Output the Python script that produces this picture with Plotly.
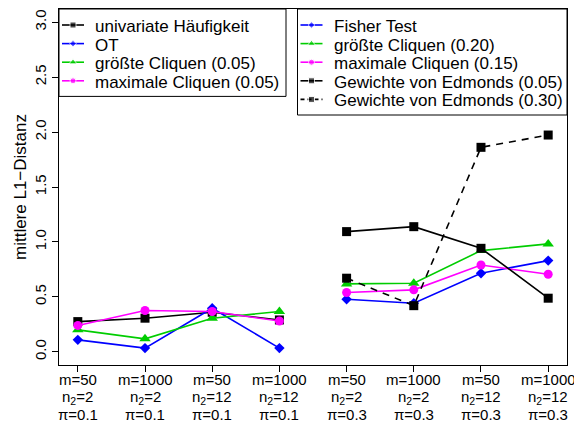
import plotly.graph_objects as go

# x positions: two blocks of four settings (pi = 0.1 and pi = 0.3)
x_low = [1, 2, 3, 4]
x_high = [5, 6, 7, 8]
x_ticks = x_low + x_high
tick_m = ["50", "1000", "50", "1000", "50", "1000", "50", "1000"]
tick_n2 = ["2", "2", "12", "12", "2", "2", "12", "12"]
tick_pi = ["0.1", "0.1", "0.1", "0.1", "0.3", "0.3", "0.3", "0.3"]
y_ticks = [0, 0.5, 1, 1.5, 2, 2.5, 3]

# pi = 0.1
univariate = [0.275, 0.306, 0.36, 0.29]
ot = [0.109, 0.034, 0.397, 0.034]
groesste_005 = [0.20, 0.118, 0.306, 0.367]
maximale_005 = [0.24, 0.376, 0.367, 0.28]

# pi = 0.3
fisher = [0.479, 0.442, 0.715, 0.83]
groesste_020 = [0.618, 0.624, 0.921, 0.982]
maximale_015 = [0.54, 0.564, 0.79, 0.706]
edmonds_005 = [1.094, 1.139, 0.942, 0.488]
edmonds_030 = [0.67, 0.42, 1.861, 1.973]

BLACK, BLUE, GREEN, MAGENTA = "#000000", "#0000FF", "#00CD00", "#FF00FF"
FONT = "Liberation Sans, Arial, Helvetica, DejaVu Sans, sans-serif"
DASHED = "7px,6px"
LINE_W = 1.6

# symbol name -> (plot size, key size)
SYMBOLS = {
    "square": (9, 6),
    "diamond": (8, 5),
    "triangle-up": (10, 7),
    "circle": (9, 6),
}

# figure / plot-area geometry in pixels
W, H = 574, 421
M_L, M_R, M_T, M_B = 59, 7, 9, 56
P_LEFT, P_RIGHT, P_TOP, P_BOTTOM = M_L, W - M_R, M_T, H - M_B


def paper_y(px):
    """Pixel row (from the top of the figure) -> paper y fraction."""
    return (P_BOTTOM - px) / (P_BOTTOM - P_TOP)


series_low = [
    ("univariate Häufigkeit", univariate, BLACK, "square", "solid"),
    ("OT", ot, BLUE, "diamond", "solid"),
    ("größte Cliquen (0.05)", groesste_005, GREEN, "triangle-up", "solid"),
    ("maximale Cliquen (0.05)", maximale_005, MAGENTA, "circle", "solid"),
]
series_high = [
    ("Fisher Test", fisher, BLUE, "diamond", "solid"),
    ("größte Cliquen (0.20)", groesste_020, GREEN, "triangle-up", "solid"),
    ("maximale Cliquen (0.15)", maximale_015, MAGENTA, "circle", "solid"),
    ("Gewichte von Edmonds (0.05)", edmonds_005, BLACK, "square", "solid"),
    ("Gewichte von Edmonds (0.30)", edmonds_030, BLACK, "square", DASHED),
]

fig = go.Figure()

for xs, group in ((x_low, series_low), (x_high, series_high)):
    for name, ys, color, symbol, dash in group:
        fig.add_trace(go.Scatter(
            x=xs, y=ys, name=name, mode="lines+markers", showlegend=False,
            line=dict(color=color, width=LINE_W, dash=dash),
            marker=dict(color=color, symbol=symbol, size=SYMBOLS[symbol][0]),
        ))

# Two boxed legends drawn on a pixel-space overlay of the plot area
ROW_H = 18.6
FIRST_ROW = 25
shapes = []
annotations = []


def draw_legend(group, box_left, box_right, box_top):
    box_bottom = box_top + ROW_H * len(group) + 13
    shapes.append(dict(type="rect", xref="x2", yref="y2",
                       x0=box_left, x1=box_right, y0=box_top, y1=box_bottom,
                       line=dict(color="black", width=1), layer="below"))
    for i, (name, _, color, symbol, dash) in enumerate(group):
        y = FIRST_ROW + i * ROW_H
        key_x = [box_left + 3, box_left + 14, box_left + 25]
        fig.add_trace(go.Scatter(
            x=key_x, y=[y, y, y], xaxis="x2", yaxis="y2", mode="lines+markers",
            showlegend=False, hoverinfo="skip", cliponaxis=False,
            line=dict(color=color, width=LINE_W,
                      dash="4px,3px" if dash != "solid" else "solid"),
            marker=dict(color=color, symbol=symbol,
                        size=[0, SYMBOLS[symbol][1], 0]),
        ))
        annotations.append(dict(
            xref="x2", yref="y2", x=box_left + 34, y=y + 1.5, text=name,
            showarrow=False, xanchor="left", yanchor="middle",
            font=dict(family=FONT, size=17, color="black"),
        ))


draw_legend(series_low, P_LEFT, 286, P_TOP)
draw_legend(series_high, 297.5, P_RIGHT, P_TOP)

# three-line category labels under each x tick
TICK_ROWS = [379, 397, 414.5]
for xv, m, n2, pi in zip(x_ticks, tick_m, tick_n2, tick_pi):
    lines = [f"m={m}", f"n<sub>2</sub>={n2}", f"π={pi}"]
    for row, txt in zip(TICK_ROWS, lines):
        annotations.append(dict(
            xref="x", yref="paper", x=xv, y=paper_y(row), text=txt,
            showarrow=False, xanchor="center", yanchor="middle",
            font=dict(family=FONT, size=15, color="black"),
        ))

# y-axis title
annotations.append(dict(
    xref="paper", yref="paper", x=(20 - P_LEFT) / (P_RIGHT - P_LEFT), y=0.5,
    text="mittlere L1−Distanz", textangle=-90, showarrow=False,
    xanchor="center", yanchor="middle",
    font=dict(family=FONT, size=17, color="black"),
))

axis_common = dict(
    showgrid=False, zeroline=False, showline=True, mirror=True,
    linecolor="black", linewidth=1, ticks="outside", ticklen=6,
    tickcolor="black", automargin=False,
)

fig.update_layout(
    width=W, height=H,
    margin=dict(l=M_L, r=M_R, t=M_T, b=M_B, autoexpand=False),
    paper_bgcolor="white", plot_bgcolor="white",
    font=dict(family=FONT, size=15, color="black"),
    xaxis=dict(range=[0.72, 8.28], tickvals=x_ticks, showticklabels=False,
               **axis_common),
    yaxis=dict(range=[-0.12, 3.12], tickvals=y_ticks, tickformat=".1f",
               tickangle=-90,
               tickfont=dict(family=FONT, size=15, color="black"),
               **axis_common),
    xaxis2=dict(overlaying="x", range=[P_LEFT, P_RIGHT], visible=False,
                fixedrange=True),
    yaxis2=dict(overlaying="y", range=[P_BOTTOM, P_TOP], visible=False,
                fixedrange=True),
    shapes=shapes,
    annotations=annotations,
)

fig.write_html("out.html")
